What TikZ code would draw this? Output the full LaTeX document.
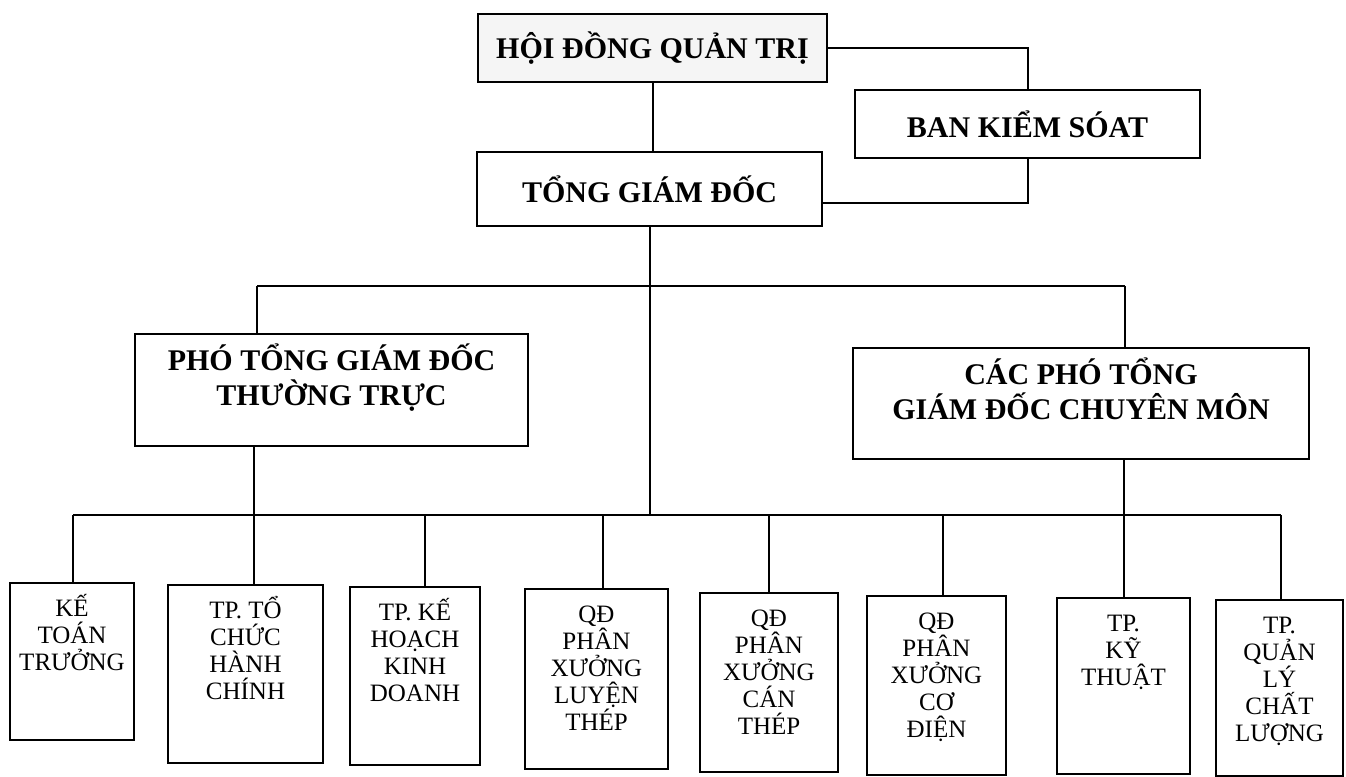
\documentclass[tikz,border=0pt]{standalone}
\usepackage{fontspec}
\setmainfont{Liberation Serif}
\usetikzlibrary{positioning, calc}

\newcommand{\headstrut}{\rule{0pt}{15pt}}
\newcommand{\unitstrut}{\rule{0pt}{12pt}}

\tikzset{
  head/.style={draw, line width=1pt, align=center, inner sep=0pt,
    font=\fontsize{15}{17.5}\selectfont\bfseries},
  headtext/.style={anchor=north, align=center, inner sep=0pt,
    font=\fontsize{15}{17.5}\selectfont\bfseries},
  unit/.style={draw, line width=1pt, inner sep=0pt, minimum height=89pt},
  unittext/.style={anchor=north, align=center, inner sep=0pt,
    font=\fontsize{12.5}{13.5}\selectfont},
  link/.style={line width=1pt},
}

\begin{document}
\begin{tikzpicture}[x=0.5pt, y=-0.5pt]
  \useasboundingbox (0,0) rectangle (1346,777);

  % board, supervisors, general director
  \node[head, fill=gray!8, minimum width=174.5pt, minimum height=34pt] (hdqt) at (652.5,48) {HỘI ĐỒNG QUẢN TRỊ};
  \node[head, minimum width=172.5pt, minimum height=34pt] (bks) at (1027.5,124) {BAN KIỂM SÓAT};
  \node[head, minimum width=172.5pt, minimum height=37pt] (tgd) at (649.5,189) {TỔNG GIÁM ĐỐC};

  % deputy directors
  \node[head, minimum width=196.5pt, minimum height=56pt] (ptgd) at (331.5,390) {};
  \node[headtext] (ptgd-t) at ([yshift=-3.5pt]ptgd.north) {\headstrut PHÓ TỔNG GIÁM ĐỐC\\THƯỜNG TRỰC};
  \node[head, minimum width=228pt, minimum height=55.5pt] (cpt) at (1081,403.5) {};
  \node[headtext] (cpt-t) at ([yshift=-3.5pt]cpt.north) {\headstrut CÁC PHÓ TỔNG\\GIÁM ĐỐC CHUYÊN MÔN};

  % departments
  \node[unit, minimum width=62pt, minimum height=78.5pt] (ktt) at (72,661.5) {};
  \node[unit, minimum width=77.5pt] (tchc) at (245.5,674) {};
  \node[unit, minimum width=65pt] (khkd) at (415,676) {};
  \node[unit, minimum width=71.5pt, minimum height=90pt] (qdlt) at (596.5,679) {};
  \node[unit, minimum width=69pt, minimum height=89.5pt] (qdct) at (769,682.5) {};
  \node[unit, minimum width=69.5pt, minimum height=89.5pt] (qdcd) at (936.5,685.5) {};
  \node[unit, minimum width=66.5pt, minimum height=88pt] (tpkt) at (1123.5,686) {};
  \node[unit, minimum width=63.5pt, minimum height=88pt] (qlcl) at (1279.5,688) {};

  \node[unittext] (ktt-t) at ([yshift=-5pt]ktt.north) {\unitstrut KẾ\\TOÁN\\TRƯỞNG};
  \node[unittext] (tchc-t) at ([yshift=-5pt]tchc.north) {\unitstrut TP. TỔ\\CHỨC\\HÀNH\\CHÍNH};
  \node[unittext] (khkd-t) at ([yshift=-5pt]khkd.north) {\unitstrut TP. KẾ\\HOẠCH\\KINH\\DOANH};
  \node[unittext] (qdlt-t) at ([yshift=-5pt]qdlt.north) {\unitstrut QĐ\\PHÂN\\XƯỞNG\\LUYỆN\\THÉP};
  \node[unittext] (qdct-t) at ([yshift=-5pt]qdct.north) {\unitstrut QĐ\\PHÂN\\XƯỞNG\\CÁN\\THÉP};
  \node[unittext] (qdcd-t) at ([yshift=-5pt]qdcd.north) {\unitstrut QĐ\\PHÂN\\XƯỞNG\\CƠ\\ĐIỆN};
  \node[unittext] (tpkt-t) at ([yshift=-5pt]tpkt.north) {\unitstrut TP.\\KỸ\\THUẬT};
  \node[unittext] (qlcl-t) at ([yshift=-5pt]qlcl.north) {\unitstrut TP.\\QUẢN\\LÝ\\CHẤT\\LƯỢNG};

  % bus lines
  \coordinate (up-l) at (257,286);
  \coordinate (up-r) at (1125,286);
  \coordinate (low-l) at (73,515);
  \coordinate (low-r) at (1281,515);

  \draw[link] (hdqt.south) -- (hdqt.south |- tgd.north);
  \draw[link] (hdqt.east) -| (bks.north);
  \draw[link] ([yshift=-7pt]tgd.east) -| (bks.south);
  \draw[link] (tgd.south) -- (tgd.south |- low-l);
  \draw[link] (up-l) -- (up-r);
  \draw[link] (up-l) -- (up-l |- ptgd.north);
  \draw[link] (up-r) -- (up-r |- cpt.north);
  \draw[link] (low-l) -- (low-r);
  \draw[link] (254,0 |- ptgd.south) -- (254,0 |- tchc.north);
  \draw[link] (tpkt.north |- cpt.south) -- (tpkt.north);
  \foreach \xx/\dept in {73/ktt, 425/khkd, 603/qdlt, 769/qdct, 943/qdcd, 1281/qlcl}
    \draw[link] (\xx,515) -- (\xx,0 |- \dept.north);
\end{tikzpicture}
\end{document}
